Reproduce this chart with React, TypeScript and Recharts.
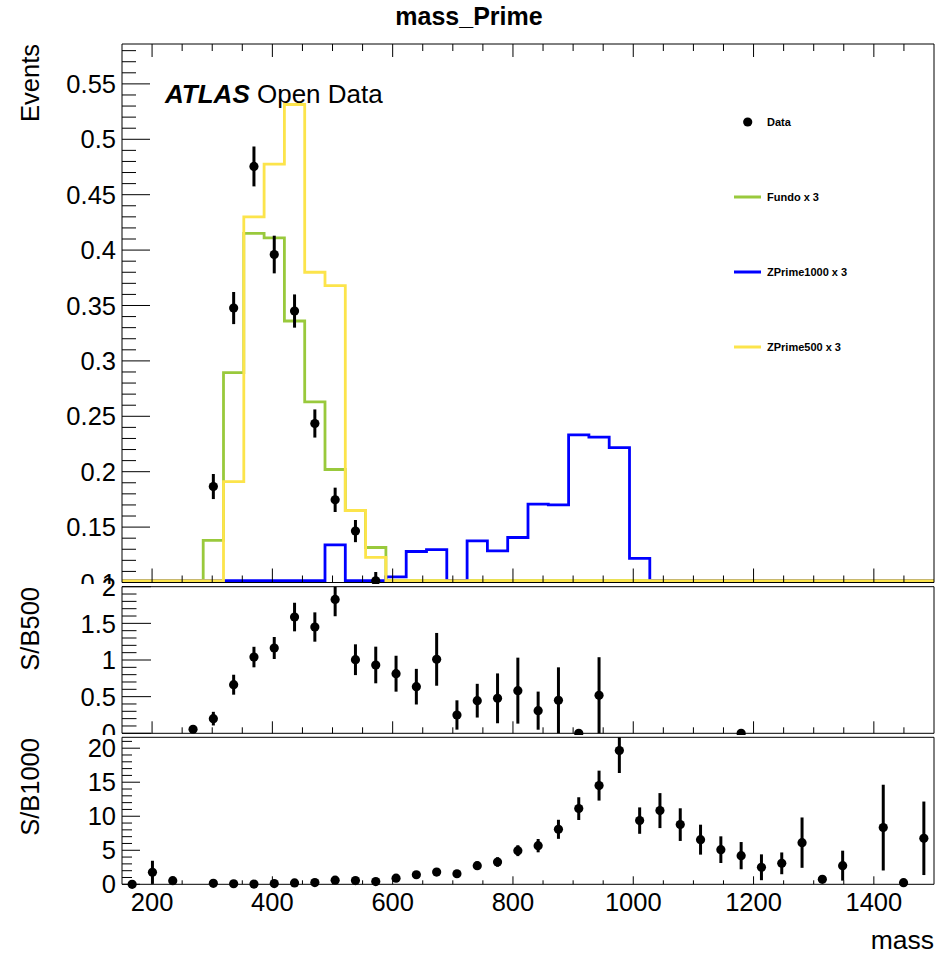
import React from 'react';
import { ComposedChart, Line, Scatter, ErrorBar, XAxis, YAxis, Legend } from 'recharts';

const FONT = '"Liberation Sans", Arial, Helvetica, sans-serif';
const GREEN = '#99c93c';
const BLUE = '#0000ff';
const YELLOW = '#fce44b';

// ---- binning of the mass histogram ----
const X_MIN = 150;
const X_MAX = 1500;
const N_BINS = 40;
const BIN_WIDTH = (X_MAX - X_MIN) / N_BINS; // 33.75

// ---- histogram contents (Events) per bin ----
const fundoX3 = [
  0, 0, 0, 0, 0.138, 0.2895, 0.415, 0.411, 0.336, 0.263,
  0.202, 0.165, 0.1316, 0, 0, 0, 0, 0, 0, 0,
  0, 0, 0, 0, 0, 0, 0, 0, 0, 0,
  0, 0, 0, 0, 0, 0, 0, 0, 0, 0,
];
const zPrime1000X3 = [
  0, 0, 0, 0, 0, 0, 0, 0, 0, 0,
  0.134, 0, 0, 0.105, 0.128, 0.1297, 0, 0.1376, 0.1286, 0.1406,
  0.1707, 0.170, 0.2333, 0.2312, 0.2218, 0.1217, 0, 0, 0, 0,
  0, 0, 0, 0, 0, 0, 0, 0, 0, 0,
];
const zPrime500X3 = [
  0, 0, 0, 0, 0, 0.191, 0.430, 0.4776, 0.5314, 0.380,
  0.368, 0.165, 0.1226, 0, 0, 0, 0, 0, 0, 0,
  0, 0, 0, 0, 0, 0, 0, 0, 0, 0,
  0, 0, 0, 0, 0, 0, 0, 0, 0, 0,
];

// ---- data points (only those visible in the frame) ----
const dataEvents = [
  null, null, null, null, 0.1866, 0.3477, 0.4755, 0.396, 0.345, 0.2435,
  0.1746, 0.1464, 0.1015, null, null, null, null, null, null, null,
  null, null, null, null, null, null, null, null, null, null,
  null, null, null, null, null, null, null, null, null, null,
];
const dataEventsErr = [
  null, null, null, null, 0.0113, 0.0145, 0.018, 0.017, 0.015, 0.0127,
  0.011, 0.010, 0.008, null, null, null, null, null, null, null,
  null, null, null, null, null, null, null, null, null, null,
  null, null, null, null, null, null, null, null, null, null,
];

const sb500 = [
  null, null, null, 0.055, 0.2, 0.663, 1.04, 1.164, 1.586, 1.45,
  1.827, 1.004, 0.932, 0.813, 0.636, 1.009, 0.25, 0.445, 0.477, 0.582,
  0.309, 0.45, 0, 0.518, null, null, null, null, null, null,
  0, null, null, null, null, null, null, null, null, null,
];
const sb500Err = [
  null, null, null, 0.03, 0.093, 0.136, 0.14, 0.15, 0.195, 0.2,
  0.23, 0.21, 0.25, 0.245, 0.243, 0.36, 0.2, 0.23, 0.34, 0.45,
  0.26, 0.45, 0, 0.52, null, null, null, null, null, null,
  0, null, null, null, null, null, null, null, null, null,
];

const sb1000 = [
  0, 1.76, 0.53, null, 0.15, 0.08, 0.03, 0.1, 0.2, 0.25,
  0.6, 0.55, 0.4, 0.9, 1.4, 1.8, 1.55, 2.74, 3.28, 4.94,
  5.68, 8.08, 11.12, 14.5, 19.65, 9.36, 10.83, 8.77, 6.56, 5.09,
  4.21, 2.5, 3.08, 6.12, 0.73, 2.74, null, 8.33, 0.24, 6.76,
];
const sb1000Err = [
  0, 1.7, 0.3, null, 0.1, 0.05, 0.03, 0.05, 0.1, 0.1,
  0.2, 0.2, 0.15, 0.3, 0.4, 0.5, 0.45, 0.6, 0.7, 0.8,
  0.98, 1.4, 1.67, 2.2, 3.3, 1.94, 2.57, 2.4, 2.2, 1.96,
  2.0, 1.9, 1.6, 3.7, 0.3, 2.2, null, 6.3, 0.1, 5.4,
];

// ---- axis ticks ----
const xMajorTicks = [200, 400, 600, 800, 1000, 1200, 1400];
const xAllTicks = [
  200, 250, 300, 350, 400, 450, 500, 550, 600, 650, 700, 750, 800,
  850, 900, 950, 1000, 1050, 1100, 1150, 1200, 1250, 1300, 1350, 1400, 1450,
];
const mainYMajor = [0.1, 0.15, 0.2, 0.25, 0.3, 0.35, 0.4, 0.45, 0.5, 0.55];
const mainYAll = Array.from({ length: 49 }, (_, i) => Math.round((0.1 + i * 0.01) * 1000) / 1000);
const sb500YMajor = [0, 0.5, 1, 1.5, 2];
const sb500YAll = Array.from({ length: 21 }, (_, i) => Math.round(i * 0.1 * 1000) / 1000);
const sb1000YMajor = [0, 5, 10, 15, 20];
const sb1000YAll = Array.from({ length: 22 }, (_, i) => i);

const legendItems = [
  { name: 'Data', color: '#000', kind: 'marker' },
  { name: 'Fundo x 3', color: GREEN, kind: 'line' },
  { name: 'ZPrime1000 x 3', color: BLUE, kind: 'line' },
  { name: 'ZPrime500 x 3', color: YELLOW, kind: 'line' },
];

const MAIN_Y: [number, number] = [0.1, 0.586];
const SB500_Y: [number, number] = [0, 2];
const SB1000_Y: [number, number] = [0, 21.6];
// empty bins are drawn on the frame floor, just above the frame line (ROOT style)
const FLOOR = MAIN_Y[0] + 0.0016;

// histogram rows at bin edges (step drawing)
const histRows = Array.from({ length: N_BINS + 1 }, (_, k) => {
  const b = Math.min(k, N_BINS - 1);
  return {
    x: X_MIN + k * BIN_WIDTH,
    fundo: Math.max(fundoX3[b], FLOOR),
    z1000: Math.max(zPrime1000X3[b], FLOOR),
    z500: Math.max(zPrime500X3[b], FLOOR),
  };
});

function points(vals: (number | null)[], errs: (number | null)[], dom: [number, number]) {
  const out: { x: number; y: number; err: [number, number] }[] = [];
  vals.forEach((v, i) => {
    if (v === null) return;
    const e = errs[i] ?? 0;
    out.push({
      x: X_MIN + BIN_WIDTH * (i + 0.5),
      y: v,
      err: [Math.max(0, Math.min(e, v - dom[0])), Math.max(0, Math.min(e, dom[1] - v))],
    });
  });
  return out;
}

const mainPoints = points(dataEvents, dataEventsErr, MAIN_Y);
const sb500Points = points(sb500, sb500Err, SB500_Y);
const sb1000Points = points(sb1000, sb1000Err, SB1000_Y);

const isIn = (arr: number[], v: number) => arr.some((m) => Math.abs(m - v) < 1e-6);
const fmtNum = (v: number) => String(Math.round(v * 1000) / 1000);
const TICK_FS = 25.5;

function makeTick(side: string, majors: number[], majorLen: number, minorLen: number, labels: boolean) {
  return (props: any) => {
    const { x, y, payload } = props;
    const v = payload.value;
    const major = isIn(majors, v);
    const len = major ? majorLen : minorLen;
    let x2 = x;
    let y2 = y;
    if (side === 'left') x2 = x + len;
    if (side === 'right') x2 = x - len;
    if (side === 'top') y2 = y + len;
    if (side === 'bottom') y2 = y - len;
    let label = null;
    if (labels && major) {
      if (side === 'left') {
        label = (
          <text x={x - 6} y={y + 0.36 * TICK_FS} textAnchor="end" fontSize={TICK_FS} fontFamily={FONT} fill="#000">
            {fmtNum(v)}
          </text>
        );
      } else if (side === 'bottom') {
        label = (
          <text x={x} y={y + 26.5} textAnchor="middle" fontSize={TICK_FS} fontFamily={FONT} fill="#000">
            {fmtNum(v)}
          </text>
        );
      }
    }
    return (
      <g>
        <line x1={x} y1={y} x2={x2} y2={y2} stroke="#000" strokeWidth={1} />
        {label}
      </g>
    );
  };
}

type FrameCfg = {
  yDomain: [number, number];
  yMajor: number[];
  yAll: number[];
  yLen: [number, number];
  xTopLen: [number, number];
  xBotLen: [number, number];
  xLabels: boolean;
};

function frameAxes(c: FrameCfg) {
  const axisLine = { stroke: '#000', strokeWidth: 1 };
  return [
    <XAxis key="xb" xAxisId="b" dataKey="x" type="number" orientation="bottom" domain={[X_MIN, X_MAX]}
      ticks={xAllTicks} interval={0} height={1} tickSize={0} tickMargin={0} tickLine={false}
      axisLine={axisLine} tick={makeTick('bottom', xMajorTicks, c.xBotLen[0], c.xBotLen[1], c.xLabels)} />,
    <XAxis key="xt" xAxisId="t" dataKey="x" type="number" orientation="top" domain={[X_MIN, X_MAX]}
      ticks={xAllTicks} interval={0} height={1} tickSize={0} tickMargin={0} tickLine={false}
      axisLine={axisLine} tick={makeTick('top', xMajorTicks, c.xTopLen[0], c.xTopLen[1], false)} />,
    <YAxis key="yl" yAxisId="l" dataKey="y" type="number" orientation="left" domain={c.yDomain}
      ticks={c.yAll} interval={0} width={1} tickSize={0} tickMargin={0} tickLine={false}
      axisLine={axisLine} tick={makeTick('left', c.yMajor, c.yLen[0], c.yLen[1], true)} />,
    <YAxis key="yr" yAxisId="r" dataKey="y" type="number" orientation="right" domain={c.yDomain}
      ticks={c.yAll} interval={0} width={1} tickSize={0} tickMargin={0} tickLine={false}
      axisLine={axisLine} tick={makeTick('right', c.yMajor, c.yLen[0], c.yLen[1], false)} />,
  ];
}

const dotShape = (p: any) => <circle cx={p.cx} cy={p.cy} r={4.6} fill="#000" />;

function LegendBox() {
  return (
    <svg width={170} height={250} style={{ overflow: 'visible' }}>
      {legendItems.map((it, i) => {
        const cy = 12 + 75 * i;
        return (
          <g key={it.name}>
            {it.kind === 'marker' ? (
              <circle cx={19.7} cy={cy} r={4.6} fill={it.color} />
            ) : (
              <line x1={6} y1={cy} x2={33} y2={cy} stroke={it.color} strokeWidth={3} />
            )}
            <text x={39} y={cy + 4} fontSize={11} fontWeight="bold" fontFamily={FONT} fill="#000">
              {it.name}
            </text>
          </g>
        );
      })}
    </svg>
  );
}

export default function App() {
  return (
    <div style={{ position: 'absolute', left: 0, top: 0, width: 937, height: 954, background: '#fff', overflow: 'hidden', fontFamily: FONT }}>
      {/* main panel */}
      <div style={{ position: 'absolute', left: 0, top: 0 }}>
        <ComposedChart width={937} height={584} data={histRows} margin={{ top: 43, right: 2, bottom: 0.5, left: 121 }}>
          {frameAxes({ yDomain: MAIN_Y, yMajor: mainYMajor, yAll: mainYAll, yLen: [28, 14], xTopLen: [13, 7], xBotLen: [14, 7], xLabels: false })}
          <Line xAxisId="b" yAxisId="l" type="stepAfter" dataKey="fundo" name="Fundo x 3" stroke={GREEN} strokeWidth={2.8} dot={false} isAnimationActive={false} />
          <Line xAxisId="b" yAxisId="l" type="stepAfter" dataKey="z1000" name="ZPrime1000 x 3" stroke={BLUE} strokeWidth={2.8} dot={false} isAnimationActive={false} />
          <Line xAxisId="b" yAxisId="l" type="stepAfter" dataKey="z500" name="ZPrime500 x 3" stroke={YELLOW} strokeWidth={2.8} dot={false} isAnimationActive={false} />
          <Scatter xAxisId="b" yAxisId="l" name="Data" data={mainPoints} dataKey="y" shape={dotShape} isAnimationActive={false}>
            <ErrorBar dataKey="err" direction="y" width={0} stroke="#000" strokeWidth={3} isAnimationActive={false} />
          </Scatter>
          <Legend layout="horizontal" verticalAlign="middle" align="center"
            wrapperStyle={{ position: 'absolute', left: 728, top: 110, width: 170, height: 250 }}
            content={() => <LegendBox />} />
        </ComposedChart>
      </div>

      {/* S/B500 panel */}
      <div style={{ position: 'absolute', left: 0, top: 570 }}>
        <ComposedChart width={937} height={165} margin={{ top: 15.7, right: 2, bottom: 0.7, left: 121 }}>
          {frameAxes({ yDomain: SB500_Y, yMajor: sb500YMajor, yAll: sb500YAll, yLen: [29, 14.5], xTopLen: [4, 2], xBotLen: [12, 6], xLabels: false })}
          <Scatter xAxisId="b" yAxisId="l" name="S/B500" data={sb500Points} dataKey="y" shape={dotShape} isAnimationActive={false}>
            <ErrorBar dataKey="err" direction="y" width={0} stroke="#000" strokeWidth={3} isAnimationActive={false} />
          </Scatter>
        </ComposedChart>
      </div>

      {/* S/B1000 panel */}
      <div style={{ position: 'absolute', left: 0, top: 734 }}>
        <ComposedChart width={937} height={220} margin={{ top: 2.3, right: 2, bottom: 68.7, left: 121 }}>
          {frameAxes({ yDomain: SB1000_Y, yMajor: sb1000YMajor, yAll: sb1000YAll, yLen: [18, 10], xTopLen: [7, 3.5], xBotLen: [8, 4], xLabels: true })}
          <Scatter xAxisId="b" yAxisId="l" name="S/B1000" data={sb1000Points} dataKey="y" shape={dotShape} isAnimationActive={false}>
            <ErrorBar dataKey="err" direction="y" width={0} stroke="#000" strokeWidth={3} isAnimationActive={false} />
          </Scatter>
        </ComposedChart>
      </div>

      {/* texts */}
      <svg width={937} height={954} style={{ position: 'absolute', left: 0, top: 0, pointerEvents: 'none' }}>
        <text x={469} y={25} textAnchor="middle" fontSize={25} fontWeight="bold" fontFamily={FONT} fill="#000">mass_Prime</text>
        <text x={165} y={103.3} fontSize={26} fontFamily={FONT} fill="#000">
          <tspan fontWeight="bold" fontStyle="italic">ATLAS</tspan>
          <tspan> Open Data</tspan>
        </text>
        <text transform="translate(39,44) rotate(-90)" textAnchor="end" fontSize={25.5} fontFamily={FONT} fill="#000">Events</text>
        <text transform="translate(39,587) rotate(-90)" textAnchor="end" fontSize={25.5} fontFamily={FONT} fill="#000">S/B500</text>
        <text transform="translate(39,738) rotate(-90)" textAnchor="end" fontSize={25.5} fontFamily={FONT} fill="#000">S/B1000</text>
        <text x={934} y={949} textAnchor="end" fontSize={26.5} fontFamily={FONT} fill="#000">mass</text>
      </svg>
    </div>
  );
}
